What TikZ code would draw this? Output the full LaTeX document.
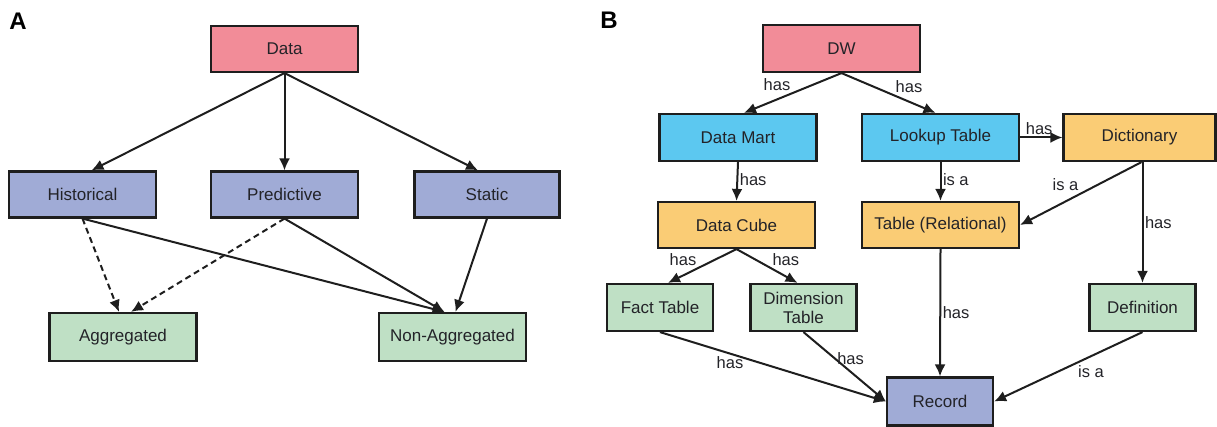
\documentclass[tikz,border=0pt]{standalone}
\usepackage{fontspec}
\setmainfont{Liberation Sans}
\usetikzlibrary{arrows.meta}

\definecolor{pinkbox}{RGB}{242,140,152}
\definecolor{bluebox}{RGB}{160,171,214}
\definecolor{greenbox}{RGB}{191,224,197}
\definecolor{cyanbox}{RGB}{92,200,240}
\definecolor{orangebox}{RGB}{250,204,117}
\definecolor{edgeline}{RGB}{30,30,30}
\definecolor{txt}{RGB}{35,35,40}

\newcommand{\boxfont}{\fontsize{17}{19}\selectfont}
\newcommand{\lblfont}{\fontsize{16.5}{18}\selectfont}

\begin{document}
\begin{tikzpicture}[x=1pt,y=-1pt]
\tikzstyle{box} = [rectangle, draw=edgeline, line width=2.2pt, text=txt,
inner sep=0pt, align=center, font=\boxfont, minimum height=46pt]
\tikzstyle{wbox} = [box, minimum width=147pt]
\tikzstyle{bbox} = [box, minimum width=157pt]
\tikzstyle{sbox} = [box, minimum width=106pt]
\tikzstyle{link} = [draw=edgeline, line width=2pt, -{Latex[length=12pt,width=11pt]}]
\tikzstyle{dlink} = [link, dash pattern=on 6pt off 4pt]
\tikzstyle{lbl} = [font=\lblfont, text=txt, inner sep=1.5pt]
\tikzstyle{panel} = [font=\fontsize{24}{24}\selectfont\bfseries, inner sep=0pt]

\useasboundingbox (0,0) rectangle (1217,427);

% panel A
\node [panel] (pa) at (18,21) {A};
\node [wbox, fill=pinkbox] (data) at (284.5,49) {Data};
% row 2
\node [wbox, fill=bluebox] (hist) at (82.5,194.5) {Historical};
\node [wbox, fill=bluebox] (pred) at (284.5,194.5) {Predictive};
\node [box, fill=bluebox, minimum width=145pt] (stat) at (487,194.5) {Static};
% row 3
\node [wbox, fill=greenbox, minimum height=48pt] (agg) at (123,337) {Aggregated};
\node [wbox, fill=greenbox, minimum height=48pt] (nagg) at (452.5,337) {Non-Aggregated};

\path [link] (data.south) -- ([xshift=9pt]hist.north);
\path [link] (data.south) -- (pred.north);
\path [link] (data.south) -- ([xshift=-9pt]stat.north);
\path [dlink] (hist.south) -- ([xshift=-4pt]agg.north);
\path [dlink] (pred.south) -- ([xshift=8pt]agg.north);
\path [link] (hist.south) -- ([xshift=-8pt]nagg.north);
\path [link] (pred.south) -- ([xshift=-8pt]nagg.north);
\path [link] (stat.south) -- ([xshift=3pt]nagg.north);

% panel B
\node [panel] (pb) at (609,20) {B};
\node [bbox, fill=pinkbox, minimum height=47pt] (dw) at (841.5,48.5) {DW};
% row 2
\node [bbox, fill=cyanbox, minimum height=47pt] (mart) at (738,137.5) {Data Mart};
\node [bbox, fill=cyanbox, minimum height=47pt] (lookup) at (940.5,137.5) {Lookup Table};
\node [box, fill=orangebox, minimum height=47pt, minimum width=152pt] (dict) at (1139.5,137.5) {Dictionary};
% row 3
\node [bbox, fill=orangebox] (cube) at (736.5,225) {Data Cube};
\node [bbox, fill=orangebox] (rel) at (940.5,225) {Table (Relational)};
% row 4
\node [sbox, fill=greenbox, minimum height=47pt] (fact) at (660,307.5) {Fact Table};
\node [sbox, fill=greenbox, minimum height=47pt] (dim) at (803.5,307.5) {Dimension\\Table};
\node [sbox, fill=greenbox, minimum height=47pt] (defn) at (1142.5,307.5) {Definition};
% row 5
\node [sbox, fill=bluebox, minimum height=48pt] (rec) at (940,401.5) {Record};

\path [link] (dw.south) -- node [lbl, pos=0.5, anchor=south east] {has} ([xshift=6pt]mart.north);
\path [link] (dw.south) -- node [lbl, pos=0.55, anchor=south west] {has} ([xshift=-5pt]lookup.north);
\path [link] (lookup.east) -- node [lbl, pos=0.45, above] {has} (dict.west);
\path [link] (mart.south) -- node [lbl, pos=0.45, right] {has} (cube.north);
\path [link] (lookup.south) -- node [lbl, pos=0.45, right] {is a} (rel.north);
\path [link] ([xshift=2pt]dict.south) -- node [lbl, pos=0.5, anchor=south east] {is a} (rel.east);
\path [link] ([xshift=3pt]dict.south) -- node [lbl, pos=0.5, right] {has} (defn.north);
\path [link] (cube.south) -- node [lbl, pos=0.55, anchor=south east] {has} ([xshift=8pt]fact.north);
\path [link] (cube.south) -- node [lbl, pos=0.55, anchor=south west] {has} ([xshift=-6pt]dim.north);
\path [link] (fact.south) -- node [lbl, pos=0.31, below] {has} (rec.west);
\path [link] (dim.south) -- node [lbl, pos=0.38, right] {has} (rec.west);
\path [link] (rel.south) -- node [lbl, pos=0.5, right] {has} (rec.north);
\path [link] (defn.south) -- node [lbl, pos=0.45, anchor=north west] {is a} (rec.east);

\end{tikzpicture}
\end{document}
